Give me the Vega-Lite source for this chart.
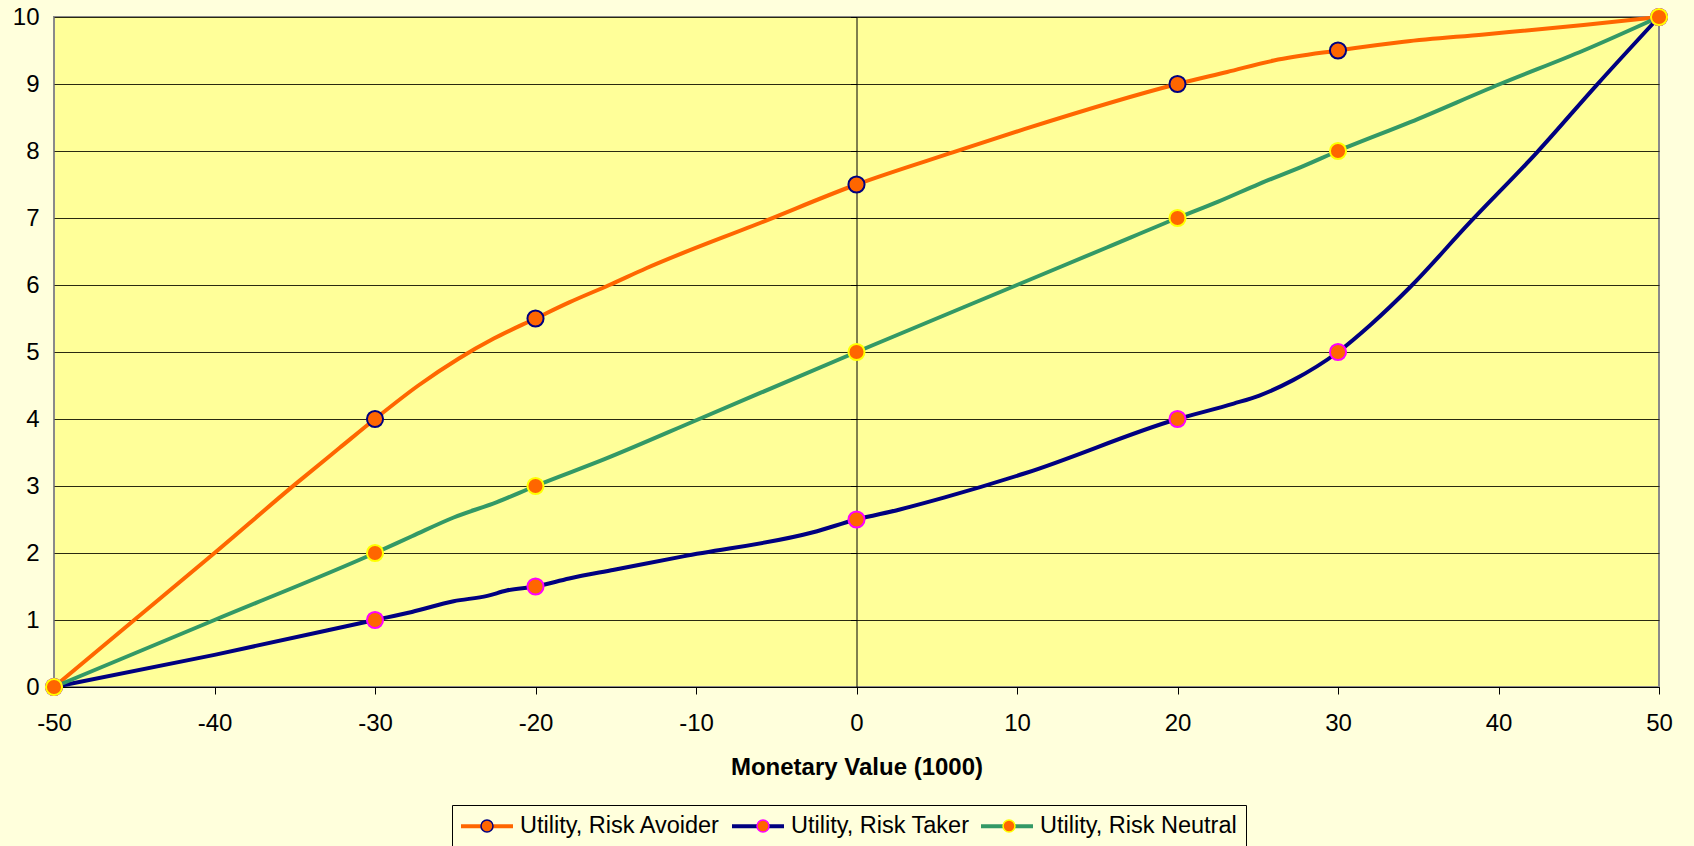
{
  "$schema": "https://vega.github.io/schema/vega-lite/v6.json",
  "width": 1605,
  "height": 670,
  "autosize": "none",
  "padding": {"left": 54, "top": 17, "right": 35, "bottom": 159},
  "background": "#FFFFDC",
  "config": {
    "font": "Liberation Sans",
    "view": {"fill": "#FFFF99", "stroke": "#8A8A8A", "strokeWidth": 2}
  },
  "data": {
    "values": [
      {"series": "Utility, Risk Avoider", "x": -50, "u": 0, "marker": true},
      {"series": "Utility, Risk Avoider", "x": -45, "u": 1.0, "marker": false},
      {"series": "Utility, Risk Avoider", "x": -40, "u": 2.0, "marker": false},
      {"series": "Utility, Risk Avoider", "x": -35, "u": 3.02, "marker": false},
      {"series": "Utility, Risk Avoider", "x": -32.2, "u": 3.57, "marker": false},
      {"series": "Utility, Risk Avoider", "x": -30, "u": 4.0, "marker": true},
      {"series": "Utility, Risk Avoider", "x": -27.3, "u": 4.5, "marker": false},
      {"series": "Utility, Risk Avoider", "x": -24.8, "u": 4.9, "marker": false},
      {"series": "Utility, Risk Avoider", "x": -22.6, "u": 5.2, "marker": false},
      {"series": "Utility, Risk Avoider", "x": -20, "u": 5.5, "marker": true},
      {"series": "Utility, Risk Avoider", "x": -17.9, "u": 5.74, "marker": false},
      {"series": "Utility, Risk Avoider", "x": -15.4, "u": 6.0, "marker": false},
      {"series": "Utility, Risk Avoider", "x": -13.1, "u": 6.25, "marker": false},
      {"series": "Utility, Risk Avoider", "x": -5.75, "u": 6.95, "marker": false},
      {"series": "Utility, Risk Avoider", "x": 0, "u": 7.5, "marker": true},
      {"series": "Utility, Risk Avoider", "x": 6, "u": 7.98, "marker": false},
      {"series": "Utility, Risk Avoider", "x": 10.5, "u": 8.33, "marker": false},
      {"series": "Utility, Risk Avoider", "x": 20, "u": 9.0, "marker": true},
      {"series": "Utility, Risk Avoider", "x": 23.1, "u": 9.18, "marker": false},
      {"series": "Utility, Risk Avoider", "x": 26, "u": 9.35, "marker": false},
      {"series": "Utility, Risk Avoider", "x": 30, "u": 9.5, "marker": true},
      {"series": "Utility, Risk Avoider", "x": 34.1, "u": 9.63, "marker": false},
      {"series": "Utility, Risk Avoider", "x": 39.1, "u": 9.74, "marker": false},
      {"series": "Utility, Risk Avoider", "x": 45.3, "u": 9.88, "marker": false},
      {"series": "Utility, Risk Avoider", "x": 50, "u": 10, "marker": true},

      {"series": "Utility, Risk Taker", "x": -50, "u": 0, "marker": true},
      {"series": "Utility, Risk Taker", "x": -40, "u": 0.48, "marker": false},
      {"series": "Utility, Risk Taker", "x": -30, "u": 1.0, "marker": true},
      {"series": "Utility, Risk Taker", "x": -27.7, "u": 1.12, "marker": false},
      {"series": "Utility, Risk Taker", "x": -25.1, "u": 1.28, "marker": false},
      {"series": "Utility, Risk Taker", "x": -23, "u": 1.36, "marker": false},
      {"series": "Utility, Risk Taker", "x": -21.8, "u": 1.44, "marker": false},
      {"series": "Utility, Risk Taker", "x": -20, "u": 1.5, "marker": true},
      {"series": "Utility, Risk Taker", "x": -17.9, "u": 1.62, "marker": false},
      {"series": "Utility, Risk Taker", "x": -15.1, "u": 1.75, "marker": false},
      {"series": "Utility, Risk Taker", "x": -10.8, "u": 1.95, "marker": false},
      {"series": "Utility, Risk Taker", "x": -2.7, "u": 2.31, "marker": false},
      {"series": "Utility, Risk Taker", "x": 0, "u": 2.5, "marker": true},
      {"series": "Utility, Risk Taker", "x": 2.7, "u": 2.65, "marker": false},
      {"series": "Utility, Risk Taker", "x": 5.5, "u": 2.83, "marker": false},
      {"series": "Utility, Risk Taker", "x": 10.5, "u": 3.19, "marker": false},
      {"series": "Utility, Risk Taker", "x": 20, "u": 4.0, "marker": true},
      {"series": "Utility, Risk Taker", "x": 23.5, "u": 4.23, "marker": false},
      {"series": "Utility, Risk Taker", "x": 25.1, "u": 4.35, "marker": false},
      {"series": "Utility, Risk Taker", "x": 27.2, "u": 4.58, "marker": false},
      {"series": "Utility, Risk Taker", "x": 30, "u": 5.0, "marker": true},
      {"series": "Utility, Risk Taker", "x": 32, "u": 5.4, "marker": false},
      {"series": "Utility, Risk Taker", "x": 34.5, "u": 5.97, "marker": false},
      {"series": "Utility, Risk Taker", "x": 38.2, "u": 6.93, "marker": false},
      {"series": "Utility, Risk Taker", "x": 42.4, "u": 7.98, "marker": false},
      {"series": "Utility, Risk Taker", "x": 46.1, "u": 8.98, "marker": false},
      {"series": "Utility, Risk Taker", "x": 50, "u": 10, "marker": true},

      {"series": "Utility, Risk Neutral", "x": -50, "u": 0, "marker": true},
      {"series": "Utility, Risk Neutral", "x": -40, "u": 1.0, "marker": false},
      {"series": "Utility, Risk Neutral", "x": -30, "u": 2.0, "marker": true},
      {"series": "Utility, Risk Neutral", "x": -27.7, "u": 2.25, "marker": false},
      {"series": "Utility, Risk Neutral", "x": -25.1, "u": 2.53, "marker": false},
      {"series": "Utility, Risk Neutral", "x": -22.4, "u": 2.76, "marker": false},
      {"series": "Utility, Risk Neutral", "x": -20, "u": 3.0, "marker": true},
      {"series": "Utility, Risk Neutral", "x": -15.7, "u": 3.4, "marker": false},
      {"series": "Utility, Risk Neutral", "x": -9.8, "u": 4.0, "marker": false},
      {"series": "Utility, Risk Neutral", "x": 0, "u": 5.0, "marker": true},
      {"series": "Utility, Risk Neutral", "x": 10, "u": 6.0, "marker": false},
      {"series": "Utility, Risk Neutral", "x": 15.6, "u": 6.56, "marker": false},
      {"series": "Utility, Risk Neutral", "x": 20, "u": 7.0, "marker": true},
      {"series": "Utility, Risk Neutral", "x": 22.5, "u": 7.24, "marker": false},
      {"series": "Utility, Risk Neutral", "x": 25.1, "u": 7.51, "marker": false},
      {"series": "Utility, Risk Neutral", "x": 27.8, "u": 7.77, "marker": false},
      {"series": "Utility, Risk Neutral", "x": 30, "u": 8.0, "marker": true},
      {"series": "Utility, Risk Neutral", "x": 34.5, "u": 8.43, "marker": false},
      {"series": "Utility, Risk Neutral", "x": 40.1, "u": 9.0, "marker": false},
      {"series": "Utility, Risk Neutral", "x": 45.3, "u": 9.5, "marker": false},
      {"series": "Utility, Risk Neutral", "x": 50, "u": 10, "marker": true}
    ]
  },
  "layer": [
    {
      "mark": {"type": "line", "interpolate": "monotone", "strokeWidth": 4},
      "encoding": {
        "x": {
          "field": "x",
          "type": "quantitative",
          "scale": {"domain": [-50, 50], "nice": false},
          "axis": {
            "values": [-50, -40, -30, -20, -10, 0, 10, 20, 30, 40, 50],
            "labelExpr": "toString(datum.value)",
            "title": "Monetary Value (1000)",
            "titleFont": "Liberation Sans",
            "titleFontSize": 24,
            "titleFontWeight": "bold",
            "titleColor": "#000000",
            "titlePadding": 20,
            "labelFont": "Liberation Sans",
            "labelFontSize": 24,
            "labelColor": "#000000",
            "labelPadding": 17,
            "labelFlush": false,
            "labelOverlap": false,
            "tickSize": 7,
            "tickColor": "#000000",
            "tickWidth": 1,
            "domainColor": "#000000",
            "domainWidth": 1,
            "grid": false,
            "zindex": 0
          }
        },
        "y": {
          "field": "u",
          "type": "quantitative",
          "scale": {"domain": [0, 10], "nice": false},
          "axis": {
            "values": [0, 1, 2, 3, 4, 5, 6, 7, 8, 9, 10],
            "title": null,
            "labelFont": "Liberation Sans",
            "labelFontSize": 24,
            "labelColor": "#000000",
            "labelPadding": 15,
            "labelFlush": false,
            "labelOverlap": false,
            "ticks": false,
            "tickSize": 0,
            "domain": false,
            "grid": true,
            "gridColor": "#2A2A10",
            "gridWidth": 1,
            "gridOpacity": 1,
            "zindex": 0
          }
        },
        "color": {
          "field": "series",
          "type": "nominal",
          "scale": {
            "domain": ["Utility, Risk Avoider", "Utility, Risk Taker", "Utility, Risk Neutral"],
            "range": ["#FF6600", "#000080", "#339966"]
          },
          "legend": {
            "title": null,
            "orient": "none",
            "legendX": 398,
            "legendY": 788,
            "direction": "horizontal",
            "columns": 3,
            "columnPadding": 3,
            "padding": 9,
            "strokeColor": "#000000",
            "symbolType": "M-2.6,0L2.6,0",
            "symbolSize": 400,
            "symbolStrokeWidth": 4,
            "symbolOffset": 14,
            "symbolOpacity": 1,
            "labelOffset": 21,
            "labelFont": "Liberation Sans",
            "labelFontSize": 23.5,
            "labelColor": "#000000",
            "labelLimit": 400
          }
        }
      }
    },
    {
      "transform": [{"filter": "datum.marker && datum.series === 'Utility, Risk Avoider'"}],
      "mark": {"type": "point", "filled": true, "fill": "#FF6600", "opacity": 1, "strokeWidth": 2, "size": 260},
      "encoding": {
        "x": {"field": "x", "type": "quantitative", "scale": {"domain": [-50, 50], "nice": false}},
        "y": {
          "field": "u",
          "type": "quantitative",
          "scale": {"domain": [0, 10], "nice": false},
          "axis": {
            "orient": "left",
            "offset": -802.5,
            "values": [0, 1, 2, 3, 4, 5, 6, 7, 8, 9, 10],
            "title": null,
            "labels": false,
            "grid": false,
            "ticks": true,
            "tickSize": 6,
            "tickColor": "#000000",
            "tickWidth": 1,
            "domain": true,
            "domainColor": "#000000",
            "domainWidth": 1,
            "zindex": 0
          }
        },
        "stroke": {
          "field": "series",
          "type": "nominal",
          "scale": {"domain": ["Utility, Risk Avoider"], "range": ["#000080"]},
          "legend": {
            "title": null,
            "orient": "none",
            "legendX": 398,
            "legendY": 788,
            "padding": 9,
            "symbolType": "M-0.533,0A0.533,0.533,0,1,1,0.533,0A0.533,0.533,0,1,1,-0.533,0Z",
            "symbolSize": 506.25,
            "symbolStrokeWidth": 1.5,
            "symbolOffset": 14,
            "symbolFillColor": "#FF6600",
            "symbolOpacity": 1,
            "labelExpr": "''",
            "labelFontSize": 23.5
          }
        }
      }
    },
    {
      "transform": [{"filter": "datum.marker && datum.series === 'Utility, Risk Taker'"}],
      "mark": {"type": "point", "filled": true, "fill": "#FF6600", "opacity": 1, "strokeWidth": 2, "size": 260},
      "encoding": {
        "x": {"field": "x", "type": "quantitative", "scale": {"domain": [-50, 50], "nice": false}},
        "y": {"field": "u", "type": "quantitative", "scale": {"domain": [0, 10], "nice": false}, "axis": null},
        "stroke": {
          "field": "series",
          "type": "nominal",
          "scale": {"domain": ["Utility, Risk Taker"], "range": ["#FF00FF"]},
          "legend": {
            "title": null,
            "orient": "none",
            "legendX": 674,
            "legendY": 788,
            "padding": 9,
            "symbolType": "M-0.533,0A0.533,0.533,0,1,1,0.533,0A0.533,0.533,0,1,1,-0.533,0Z",
            "symbolSize": 506.25,
            "symbolStrokeWidth": 1.5,
            "symbolOffset": 14,
            "symbolFillColor": "#FF6600",
            "symbolOpacity": 1,
            "labelExpr": "''",
            "labelFontSize": 23.5
          }
        }
      }
    },
    {
      "transform": [{"filter": "datum.marker && datum.series === 'Utility, Risk Neutral'"}],
      "mark": {"type": "point", "filled": true, "fill": "#FF6600", "opacity": 1, "strokeWidth": 2, "size": 260},
      "encoding": {
        "x": {"field": "x", "type": "quantitative", "scale": {"domain": [-50, 50], "nice": false}},
        "y": {"field": "u", "type": "quantitative", "scale": {"domain": [0, 10], "nice": false}, "axis": null},
        "stroke": {
          "field": "series",
          "type": "nominal",
          "scale": {"domain": ["Utility, Risk Neutral"], "range": ["#FFFF00"]},
          "legend": {
            "title": null,
            "orient": "none",
            "legendX": 920,
            "legendY": 788,
            "padding": 9,
            "symbolType": "M-0.533,0A0.533,0.533,0,1,1,0.533,0A0.533,0.533,0,1,1,-0.533,0Z",
            "symbolSize": 506.25,
            "symbolStrokeWidth": 1.5,
            "symbolOffset": 14,
            "symbolFillColor": "#FF6600",
            "symbolOpacity": 1,
            "labelExpr": "''",
            "labelFontSize": 23.5
          }
        }
      }
    }
  ],
  "resolve": {
    "scale": {"y": "independent", "color": "independent", "stroke": "independent"},
    "axis": {"y": "independent"},
    "legend": {"color": "independent", "stroke": "independent"}
  }
}
